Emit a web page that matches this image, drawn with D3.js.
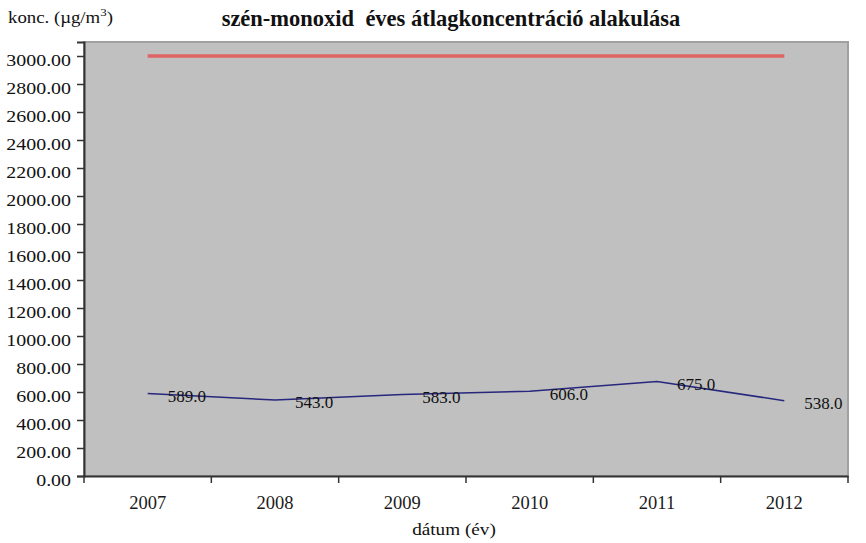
<!DOCTYPE html>
<html>
<head>
<meta charset="utf-8">
<script src="https://cdn.jsdelivr.net/npm/d3@7"></script>
<style>
  body { margin: 0; background: #fff; }
</style>
</head>
<body>
<svg width="866" height="543"></svg>
<script>
// data
var years = ['2007', '2008', '2009', '2010', '2011', '2012'];
var koncValues = [589, 543, 583, 606, 675, 538];
var limitValues = [3000, 3000, 3000, 3000, 3000, 3000];
var yTicks = d3.range(0, 3001, 200);

var serif = '"Liberation Serif", "Times New Roman", Tinos, "DejaVu Serif", serif';

var margin = {left: 84, top: 42, right: 18, bottom: 67};
var svg = d3.select('svg').attr('font-family', serif);
var w = 866 - margin.left - margin.right,
    h = 543 - margin.top - margin.bottom;

var x = d3.scaleBand().domain(years).range([0, w]);
var y = d3.scaleLinear().domain([0, 3100]).range([h, 0]);

// the original text is a bit wider than plain Times, stretch it horizontally
function stretch(sel, f) {
    sel.each(function() {
        var t = d3.select(this), x0 = +t.attr('x') || 0;
        t.attr('transform', 'translate(' + x0 + ',0) scale(' + f + ',1) translate(' + (-x0) + ',0)');
    });
}

var g = svg.append('g').attr('transform', 'translate(' + margin.left + ',' + margin.top + ')');

// plot area
g.append('rect').attr('width', w).attr('height', h)
    .attr('fill', '#c0c0c0').attr('stroke', '#a0a0a0').attr('stroke-width', 2);

// y axis
var yAxis = g.append('g').call(d3.axisLeft(y).tickValues(yTicks)
    .tickSize(7).tickFormat(d3.format('.2f')));
yAxis.attr('font-family', serif);
yAxis.select('.domain').attr('stroke', '#333').attr('stroke-width', 2);
yAxis.selectAll('.tick line').attr('stroke', '#333').attr('stroke-width', 1.5);
yAxis.selectAll('.tick text').attr('x', -13).attr('y', 3).attr('dy', '0.36em')
    .style('font-size', '17px').attr('fill', '#111');
stretch(yAxis.selectAll('.tick text'), 1.17);

// x axis, ticks on category boundaries
var xAxis = g.append('g').attr('transform', 'translate(0,' + h + ')')
    .call(d3.axisBottom(x).tickSize(0).tickPadding(20));
xAxis.attr('font-family', serif);
xAxis.select('.domain').attr('stroke', '#333').attr('stroke-width', 2);
xAxis.selectAll('.tick text').style('font-size', '18.5px').attr('fill', '#1a1a1a');
g.append('g').selectAll('line')
    .data(years.map(function(d) { return x(d); }).concat([w]))
    .enter().append('line')
    .attr('x1', d => d).attr('x2', d => d)
    .attr('y1', h).attr('y2', h + 7)
    .attr('stroke', '#333').attr('stroke-width', 1.5);

var cx = d => x(d) + x.bandwidth() / 2;

// limit line
g.append('path').datum(limitValues)
    .attr('fill', 'none').attr('stroke', '#e06464').attr('stroke-width', 3.5)
    .attr('d', d3.line().x((d, i) => cx(years[i])).y(d => y(d)));

// concentration line
g.append('path').datum(koncValues)
    .attr('fill', 'none').attr('stroke', '#27277c').attr('stroke-width', 1.5)
    .attr('d', d3.line().x((d, i) => cx(years[i])).y(d => y(d)));

g.append('g').selectAll('text').data(koncValues).enter().append('text')
    .attr('x', (d, i) => cx(years[i]) + 20)
    .attr('y', d => y(d) + 8.5)
    .attr('fill', '#111')
    .style('font-size', '17px')
    .text(d => d.toFixed(1));

// titles
svg.append('text').attr('x', 451).attr('y', 26).attr('text-anchor', 'middle')
    .attr('fill', '#111')
    .style('font-size', '22.5px').style('font-weight', 'bold')
    .style('white-space', 'pre')
    .text('szén-monoxid  éves átlagkoncentráció alakulása');

var yl = svg.append('text').attr('x', 8).attr('y', 23).attr('fill', '#111').style('font-size', '16px');
yl.append('tspan').text('konc. (µg/m');
yl.append('tspan').attr('dy', -7).style('font-size', '11px').text('3');
yl.append('tspan').attr('dy', 7).text(')');
stretch(yl, 105 / yl.node().getBBox().width);

var xl = svg.append('text').attr('x', 454).attr('y', 535).attr('text-anchor', 'middle')
    .attr('fill', '#111')
    .style('font-size', '17px').text('dátum (év)');
stretch(xl, 1.13);
</script>
</body>
</html>
